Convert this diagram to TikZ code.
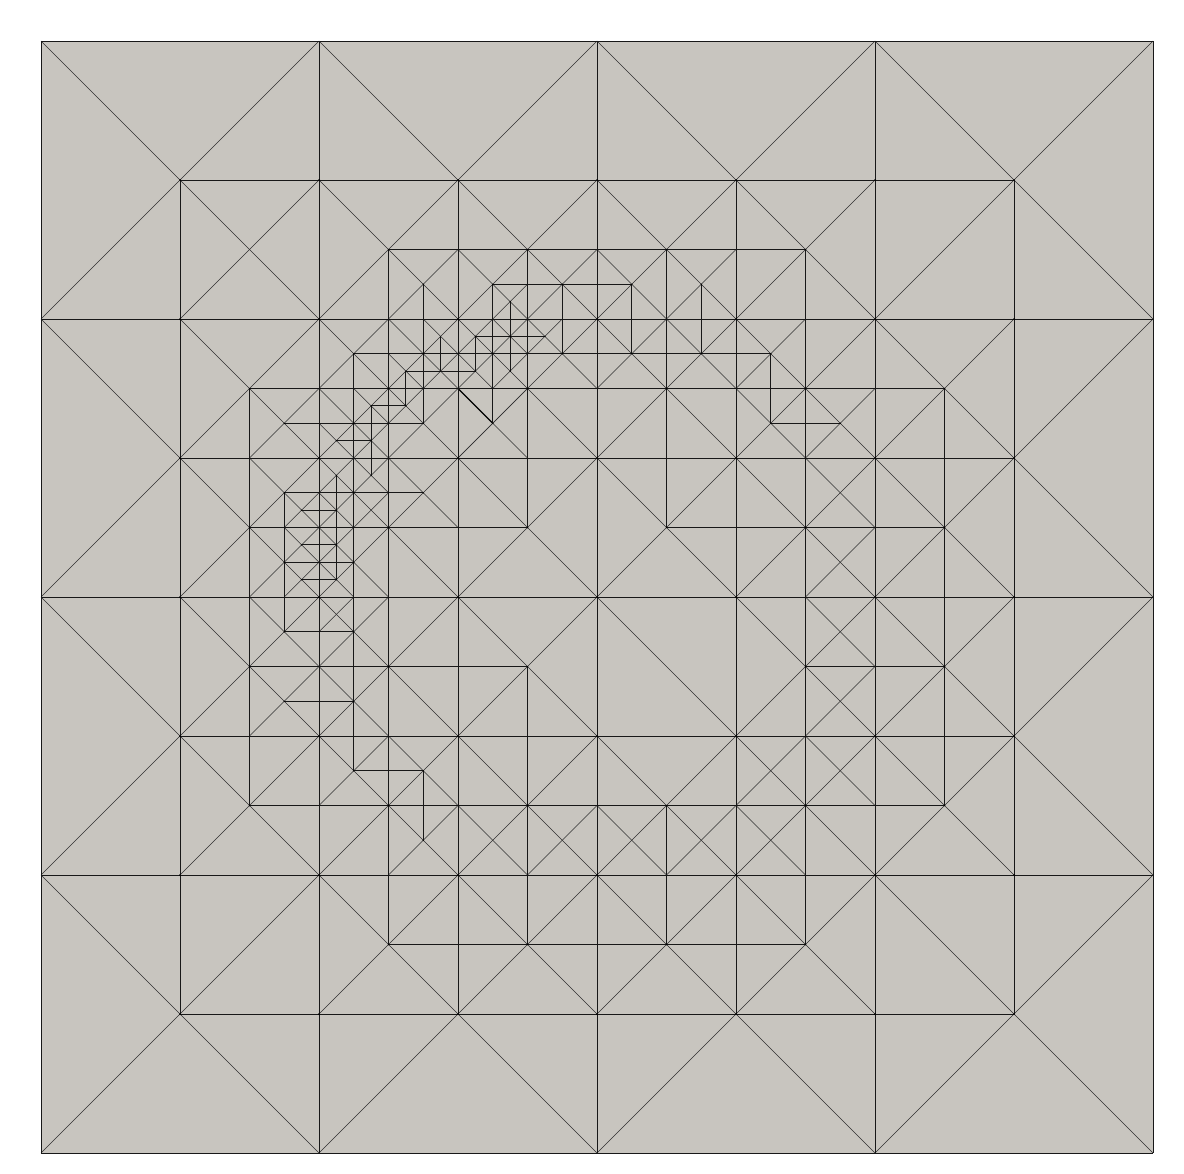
\documentclass[tikz,border=0pt]{standalone}
\definecolor{meshfill}{HTML}{C8C5BF}
\definecolor{meshline}{HTML}{181818}
\definecolor{meshdiag}{HTML}{303030}
\tikzset{
  axisedge/.style={draw=meshline,line width=0.95bp},
  diagedge/.style={draw=meshdiag,line width=0.6bp},
  thickedge/.style={draw=black,line width=1.35bp},
  vertexdot/.style={fill=black,inner sep=0pt,outer sep=0pt}
}
\begin{document}
\begin{tikzpicture}[x=34.75bp,y=-34.75bp]
\path[use as bounding box] (-1.17986,-1.17986) rectangle (32.89209,32.60432);
\fill[meshfill] (0,0) rectangle (32,32);
% level 0: crossing diagonals of the coarse cells
\foreach \i in {0,8,16,24}{
  \foreach \j in {0,8,16,24}{
    \draw[diagedge] (\i,\j) -- ({\i+8},{\j+8});
    \draw[diagedge] ({\i+8},\j) -- (\i,{\j+8});
  }
}
% level 1: second diagonals of the 4-cells
\foreach \i/\j in {
  6/6,10/6,14/6,18/6,22/6,
  6/10,10/10,14/10,18/10,22/10,26/10,
  6/14,10/14,14/14,18/14,22/14,26/14,
  6/18,10/18,14/18,22/18,26/18,
  6/22,10/22,14/22,18/22,22/22,26/22,
  10/26,14/26,18/26,22/26}{
  \pgfmathsetmacro\s{mod(\i-\j,8)==0 ? -1 : 1}
  \draw[diagedge] ({\i-2},{\j-2*\s}) -- ({\i+2},{\j+2*\s});
}
% level 2: second diagonals of the 2-cells
\foreach \i/\j in {
  11/7,13/7,15/7,17/7,19/7,
  9/9,11/9,13/9,15/9,17/9,19/9,21/9,
  7/11,9/11,11/11,21/11,23/11,
  7/13,9/13,11/13,23/13,
  7/15,9/15,23/15,
  7/17,9/17,23/17,
  7/19,9/19,23/19,
  9/21,11/21,21/21,23/21,
  11/23,13/23,15/23,17/23,19/23,21/23}{
  \pgfmathsetmacro\s{mod(\i-\j,4)==0 ? -1 : 1}
  \draw[diagedge] ({\i-1},{\j-\s}) -- ({\i+1},{\j+\s});
}
% the (13,11) centre: a heavy half and a normal half
\draw[thickedge] (12,10) -- (13,11);
\draw[diagedge] (13,11) -- (14,12);
\draw[diagedge] (12,12) -- (14,10);
% level 3: second diagonals of the 1-cells
\foreach \a/\b in {
  13.5/7.5,
  11.5/8.5,12.5/8.5,13.5/8.5,14.5/8.5,
  10.5/9.5,11.5/9.5,12.5/9.5,13.5/9.5,
  9.5/10.5,10.5/10.5,
  8.5/11.5,9.5/11.5,
  8.5/12.5,9.5/12.5,
  7.5/13.5,8.5/13.5,9.5/13.5,
  7.5/14.5,8.5/14.5,
  7.5/15.5,8.5/15.5,
  8.5/16.5}{
  \pgfmathsetmacro\s{mod(\a+\b-1,2)==0 ? -1 : 1}
  \draw[diagedge] ({\a-0.5},{\b-0.5*\s}) -- ({\a+0.5},{\b+0.5*\s});
}
% horizontal edges
\foreach \j/\a/\b in {
  0/0/32,8/0/32,16/0/32,24/0/32,32/0/32,
  4/4/28,12/4/28,20/4/28,28/4/28,
  6/10/22,7/13/17,9/9/21,10/6/26,
  11/7/11,11/21/23,13/7/11,
  14/6/14,14/18/26,15/7/9,17/7/9,
  18/6/14,18/22/26,19/7/9,21/9/11,
  22/6/26,26/10/22,
  8.5/12.5/14.5,9.5/10.5/12.5,10.5/9.5/10.5,11.5/8.5/9.5,
  13.5/7.5/8.5,14.5/7.5/8.5,15.5/7.5/8.5}{
  \draw[axisedge] (\a,\j) -- (\b,\j);
}
% vertical edges
\foreach \i/\a/\b in {
  0/0/32,8/0/32,16/0/32,24/0/32,32/0/32,
  4/4/28,12/4/28,20/4/28,28/4/28,
  6/10/22,7/13/17,9/9/21,10/6/26,
  11/7/11,11/21/23,13/7/11,
  14/6/14,14/18/26,15/7/9,17/7/9,
  18/6/14,18/22/26,19/7/9,21/9/11,
  22/6/26,26/10/22,
  8.5/12.5/15.5,9.5/10.5/12.5,10.5/9.5/10.5,11.5/8.5/9.5,
  12.5/8.5/9.5,13.5/7.5/9.5}{
  \draw[axisedge] (\i,\a) -- (\i,\b);
}
% vertex dots, where many edges meet
\foreach \i in {4,8,...,28}{
  \foreach \j in {4,8,...,28}{
    \fill[vertexdot] (\i,\j) circle (1bp);
  }
}
\foreach \i/\j in {
  10/6,14/6,18/6,22/6,
  6/10,10/10,14/10,18/10,22/10,26/10,
  6/14,10/14,14/14,18/14,22/14,26/14,
  6/18,10/18,14/18,22/18,26/18,
  6/22,10/22,14/22,18/22,22/22,26/22,
  10/26,14/26,18/26,22/26,
  11/7,13/7,15/7,17/7,19/7,
  9/9,11/9,13/9,15/9,17/9,19/9,21/9,
  7/11,9/11,11/11,13/11,21/11,23/11,
  7/13,9/13,11/13,7/15,9/15,7/17,9/17,
  7/19,9/19,9/21,11/21,11/23,
  13.5/7.5,12.5/8.5,13.5/8.5,14.5/8.5,10.5/9.5,12.5/9.5,13.5/9.5,
  9.5/10.5,10.5/10.5,8.5/11.5,9.5/11.5,9.5/12.5,8.5/12.5,
  7.5/13.5,8.5/13.5,7.5/14.5,8.5/14.5,7.5/15.5,8.5/15.5}{
  \fill[vertexdot] (\i,\j) circle (0.75bp);
}
\end{tikzpicture}
\end{document}
